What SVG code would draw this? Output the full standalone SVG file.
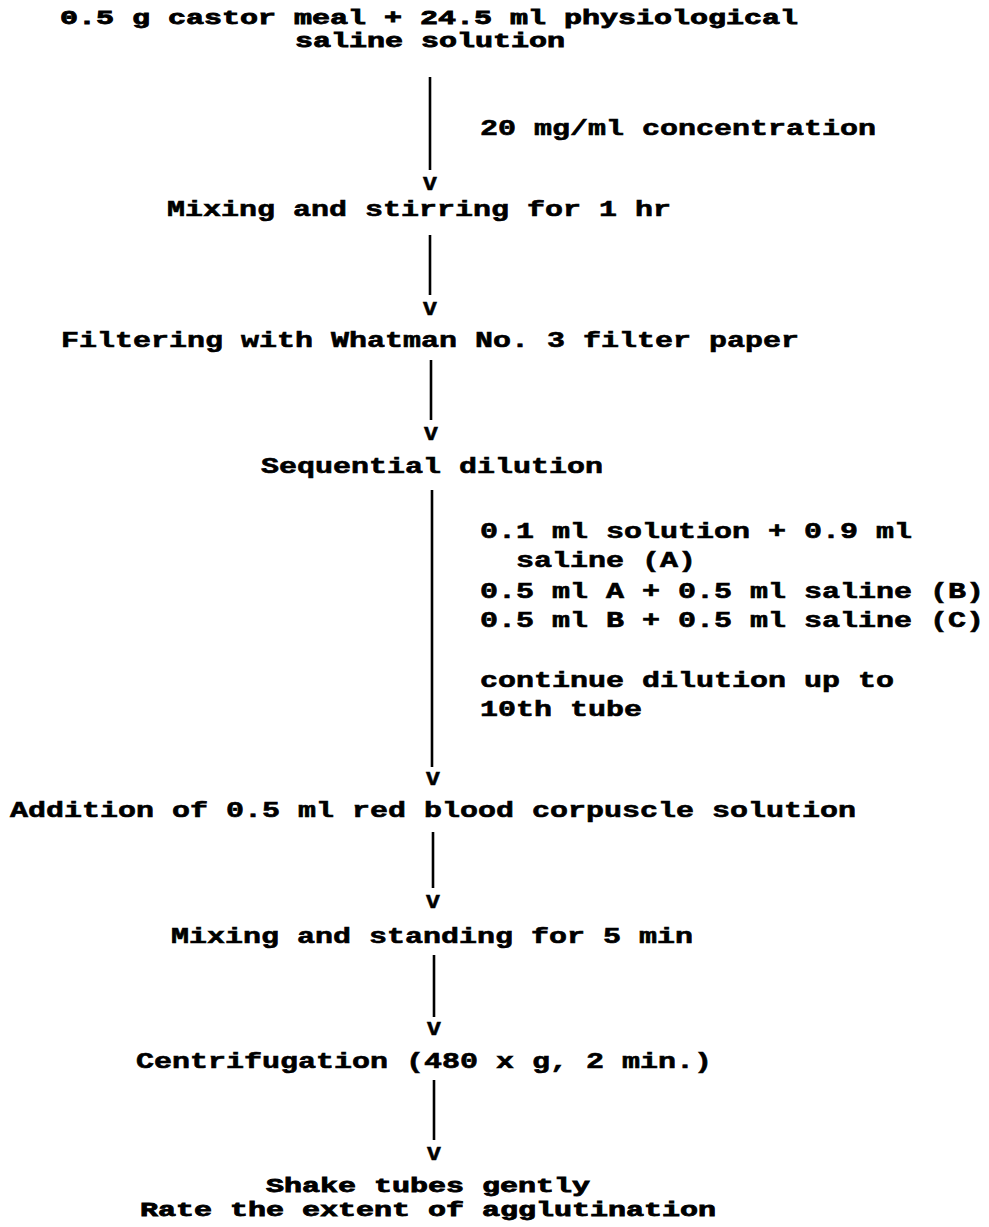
<svg xmlns="http://www.w3.org/2000/svg" width="989" height="1227" viewBox="0 0 989 1227">
<style>
text{font-family:"Liberation Mono","DejaVu Sans Mono",monospace;font-weight:bold;font-size:22px;fill:#000;stroke:#000;stroke-width:0.6}
.t{font-size:20px;stroke-width:0.8}
.v{font-size:24px}
line{stroke:#000;stroke-width:2.6}
</style>
<rect width="989" height="1227" fill="#fff"/>
<g id="connectors">
<line x1="430" y1="77" x2="430" y2="170"/>
<text class="v" x="430" y="190" text-anchor="middle">v</text>
<line x1="430" y1="235" x2="430" y2="295"/>
<text class="v" x="430" y="315" text-anchor="middle">v</text>
<line x1="431" y1="360" x2="431" y2="420"/>
<text class="v" x="431" y="440" text-anchor="middle">v</text>
<line x1="432" y1="490" x2="432" y2="767"/>
<text class="v" x="433" y="785" text-anchor="middle">v</text>
<line x1="433" y1="832" x2="433" y2="888"/>
<text class="v" x="433" y="908" text-anchor="middle">v</text>
<line x1="434" y1="955" x2="434" y2="1017"/>
<text class="v" x="434" y="1035" text-anchor="middle">v</text>
<line x1="434" y1="1080" x2="434" y2="1140"/>
<text class="v" x="434" y="1160" text-anchor="middle">v</text>
<text id="label-concentration" x="480" y="135" textLength="396" lengthAdjust="spacingAndGlyphs">20 mg/ml concentration</text>
<g id="label-dilution">
<text x="480" y="538" textLength="432" lengthAdjust="spacingAndGlyphs">0.1 ml solution + 0.9 ml</text>
<text x="516" y="567" textLength="180" lengthAdjust="spacingAndGlyphs">saline (A)</text>
<text x="480" y="598" textLength="504" lengthAdjust="spacingAndGlyphs">0.5 ml A + 0.5 ml saline (B)</text>
<text x="480" y="627" textLength="504" lengthAdjust="spacingAndGlyphs">0.5 ml B + 0.5 ml saline (C)</text>
<text x="480" y="687" textLength="414" lengthAdjust="spacingAndGlyphs">continue dilution up to</text>
<text x="480" y="716" textLength="162" lengthAdjust="spacingAndGlyphs">10th tube</text>
</g>
</g>
<g id="node-start">
<text class="t" x="60" y="24" textLength="738" lengthAdjust="spacingAndGlyphs">0.5 g castor meal + 24.5 ml physiological</text>
<text class="t" x="295" y="47" textLength="270" lengthAdjust="spacingAndGlyphs">saline solution</text>
</g>
<g id="node-mixing-stirring">
<text x="167" y="216" textLength="504" lengthAdjust="spacingAndGlyphs">Mixing and stirring for 1 hr</text>
</g>
<g id="node-filtering">
<text x="61" y="347" textLength="738" lengthAdjust="spacingAndGlyphs">Filtering with Whatman No. 3 filter paper</text>
</g>
<g id="node-sequential">
<text x="261" y="473" textLength="342" lengthAdjust="spacingAndGlyphs">Sequential dilution</text>
</g>
<g id="node-addition">
<text x="10" y="817" textLength="846" lengthAdjust="spacingAndGlyphs">Addition of 0.5 ml red blood corpuscle solution</text>
</g>
<g id="node-mixing-standing">
<text x="171" y="943" textLength="522" lengthAdjust="spacingAndGlyphs">Mixing and standing for 5 min</text>
</g>
<g id="node-centrifugation">
<text x="136" y="1068" textLength="576" lengthAdjust="spacingAndGlyphs">Centrifugation (480 x g, 2 min.)</text>
</g>
<g id="node-end">
<text class="t" x="266" y="1192" textLength="324" lengthAdjust="spacingAndGlyphs">Shake tubes gently</text>
<text class="t" x="140" y="1216" textLength="576" lengthAdjust="spacingAndGlyphs">Rate the extent of agglutination</text>
</g>
</svg>
